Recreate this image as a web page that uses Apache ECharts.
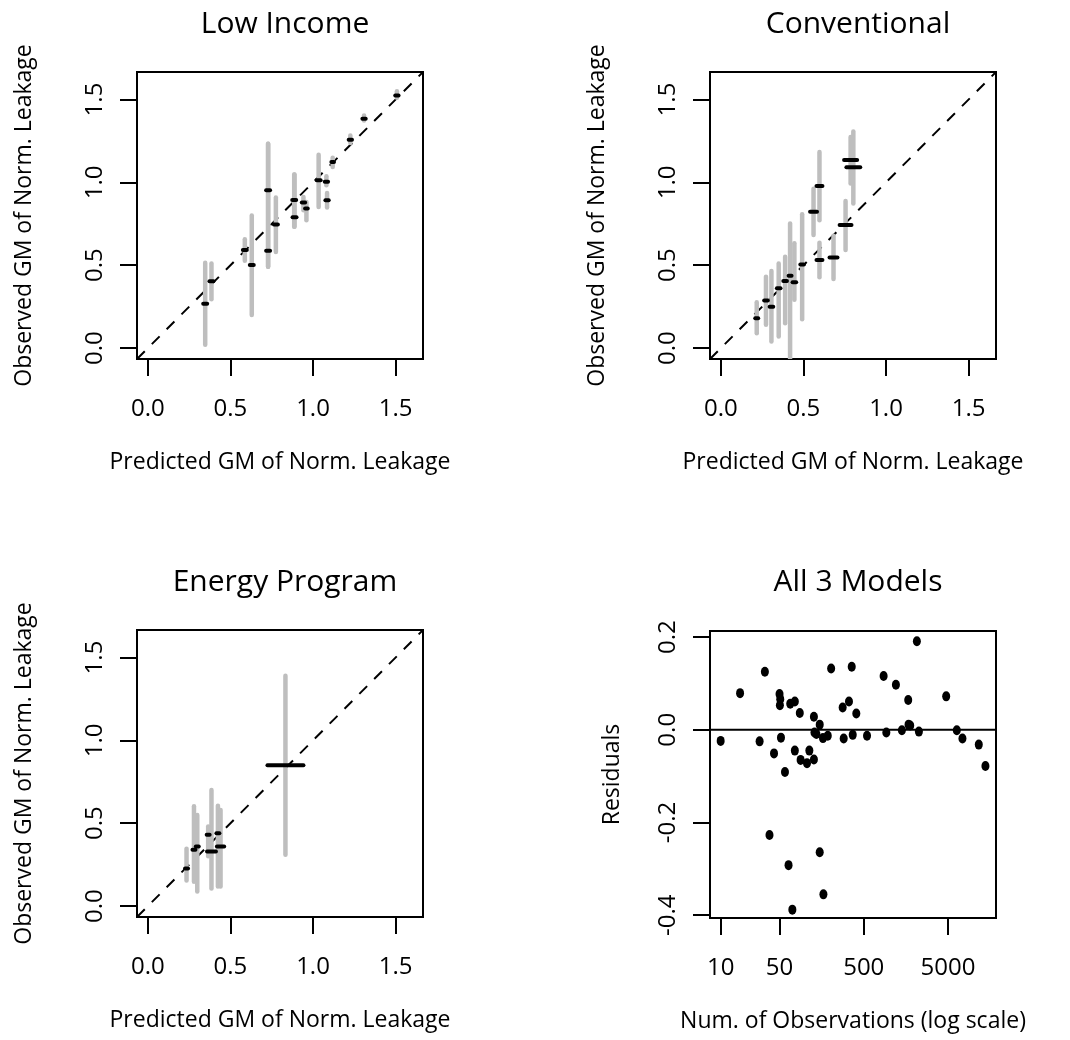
<!DOCTYPE html>
<html>
<head>
<meta charset="utf-8">
<script src="https://cdn.jsdelivr.net/npm/echarts@6/dist/echarts.min.js"></script>
<style>
  html, body { margin: 0; padding: 0; background: #fff; }
  #main { width: 1070px; height: 1040px; }
</style>
</head>
<body>
<div id="main"></div>
<script>
// panel titles and axis names
var titles = ['Low Income', 'Conventional', 'Energy Program', 'All 3 Models'];
var predName = 'Predicted GM of Norm. Leakage';
var obsName = 'Observed GM of Norm. Leakage';

// shared axis range / ticks for the three calibration panels
var gmRange = [-0.066, 1.666];
var gmTicks = [0, 0.5, 1, 1.5];

// Low Income: predicted range (black), observed GM and its interval (grey)
var lowPredLo = [0.335, 0.373, 0.575, 0.617, 0.716, 0.716, 0.763, 0.874, 0.876, 0.932, 0.952, 1.022, 1.071, 1.075, 1.111, 1.216, 1.299, 1.498];
var lowPredHi = [0.359, 0.397, 0.599, 0.641, 0.740, 0.740, 0.787, 0.898, 0.900, 0.952, 0.968, 1.046, 1.091, 1.095, 1.127, 1.236, 1.319, 1.518];
var lowObs    = [0.267, 0.403, 0.592, 0.501, 0.952, 0.588, 0.746, 0.894, 0.790, 0.878, 0.842, 1.013, 1.003, 0.892, 1.123, 1.257, 1.384, 1.524];
var lowObsLo  = [0.020, 0.295, 0.527, 0.200, 0.491, 0.491, 0.580, 0.732, 0.732, 0.832, 0.772, 0.852, 0.983, 0.848, 1.093, 1.237, 1.374, 1.510];
var lowObsHi  = [0.515, 0.511, 0.656, 0.800, 1.233, 1.233, 0.908, 1.047, 1.047, 0.912, 0.882, 1.167, 1.037, 0.936, 1.149, 1.283, 1.404, 1.550];

// Conventional
var convPredLo = [0.208, 0.262, 0.295, 0.339, 0.378, 0.410, 0.434, 0.481, 0.540, 0.579, 0.579, 0.658, 0.719, 0.746, 0.760];
var convPredHi = [0.226, 0.284, 0.317, 0.361, 0.400, 0.428, 0.456, 0.503, 0.582, 0.615, 0.615, 0.706, 0.791, 0.825, 0.844];
var convObs    = [0.180, 0.287, 0.249, 0.361, 0.405, 0.437, 0.397, 0.505, 0.822, 0.978, 0.531, 0.547, 0.742, 1.135, 1.091];
var convObsLo  = [0.090, 0.140, 0.040, 0.070, 0.150, -0.060, 0.291, 0.174, 0.682, 0.772, 0.427, 0.417, 0.592, 0.993, 0.872];
var convObsHi  = [0.277, 0.431, 0.465, 0.511, 0.551, 0.752, 0.632, 0.808, 0.962, 1.183, 0.636, 0.678, 0.888, 1.273, 1.307];

// Energy Program
var engPredLo = [0.225, 0.270, 0.290, 0.358, 0.356, 0.415, 0.418, 0.724];
var engPredHi = [0.243, 0.288, 0.308, 0.412, 0.374, 0.433, 0.462, 0.942];
var engObs    = [0.226, 0.340, 0.360, 0.330, 0.430, 0.440, 0.360, 0.850];
var engObsLo  = [0.154, 0.146, 0.088, 0.106, 0.300, 0.118, 0.118, 0.310];
var engObsHi  = [0.346, 0.602, 0.550, 0.700, 0.480, 0.606, 0.580, 1.390];

// All 3 models: number of observations and residuals
var nObs = [10, 17, 29, 33.5, 38, 43, 50, 51, 50.5, 52, 58, 64, 67, 76, 76, 87, 89, 106, 113, 128, 128, 130, 137, 150, 150,
            164, 187, 205, 281, 289, 334, 360, 370, 408, 547, 861, 927, 1205, 1419, 1687, 1702, 1782, 2138, 2259, 4764,
            6368, 7430, 11614, 13932, 71, 166];
var resid = [-0.024, 0.079, -0.025, 0.125, -0.227, -0.051, 0.077, 0.066, 0.053, -0.017, -0.091, -0.292, 0.056, 0.061, -0.045,
             0.036, -0.065, -0.072, -0.045, 0.028, -0.064, -0.006, -0.009, 0.011, -0.264, -0.018, -0.013, 0.132, 0.048, -0.019,
             0.061, 0.136, -0.011, 0.035, -0.013, 0.116, -0.006, 0.097, -0.001, 0.064, 0.011, 0.009, 0.191, -0.004, 0.072,
             -0.001, -0.019, -0.032, -0.078, -0.388, -0.355];
var residRange = [-0.406, 0.213];
var residTicks = [-0.4, -0.2, 0, 0.2];
var nObsRange = [7.47, 18600];
var nObsTicks = [10, 50, 500, 5000];

var FONT = '"Open Sans", "DejaVu Sans", sans-serif';

var grids = [
  { left: 137, top: 72, width: 286, height: 287 },
  { left: 710, top: 72, width: 286, height: 287 },
  { left: 137, top: 630, width: 286, height: 287 },
  { left: 710, top: 631, width: 286, height: 287 }
];
grids.forEach(function (g) {
  g.show = true;
  g.borderColor = '#000';
  g.borderWidth = 2;
  g.backgroundColor = 'transparent';
});

function gmAxis(i, isX) {
  var ax = {
    type: 'value',
    gridIndex: i,
    min: gmRange[0],
    max: gmRange[1],
    splitLine: { show: false },
    axisLine: { show: false, onZero: false },
    axisTick: { show: true, length: 17, customValues: gmTicks, lineStyle: { color: '#000', width: 2 } },
    axisLabel: {
      customValues: gmTicks,
      color: '#000', fontFamily: FONT, fontSize: 24,
      formatter: function (v) { return v.toFixed(1); }
    },
    name: isX ? predName : obsName,
    nameLocation: 'middle',
    nameTextStyle: { color: '#000', fontFamily: FONT, fontSize: 23 }
  };
  if (isX) {
    ax.axisLabel.margin = 38;
    ax.nameGap = 92;
  } else {
    ax.axisLabel.rotate = 90;
    ax.axisLabel.margin = 30;
    ax.nameRotate = 90;
    ax.nameGap = 101;
  }
  return ax;
}

var xAxes = [gmAxis(0, true), gmAxis(1, true), gmAxis(2, true)];
var yAxes = [gmAxis(0, false), gmAxis(1, false), gmAxis(2, false)];

var logTicks = nObsTicks.map(function (v) { return Math.log10(v); });
xAxes.push({
  type: 'value',
  gridIndex: 3,
  min: Math.log10(nObsRange[0]),
  max: Math.log10(nObsRange[1]),
  splitLine: { show: false },
  axisLine: { show: false, onZero: false },
  axisTick: { show: true, length: 17, customValues: logTicks, lineStyle: { color: '#000', width: 2 } },
  axisLabel: {
    customValues: logTicks, margin: 38,
    color: '#000', fontFamily: FONT, fontSize: 24,
    formatter: function (v) { return String(Math.round(Math.pow(10, v))); }
  },
  name: 'Num. of Observations (log scale)',
  nameLocation: 'middle',
  nameGap: 92,
  nameTextStyle: { color: '#000', fontFamily: FONT, fontSize: 23 }
});
yAxes.push({
  type: 'value',
  gridIndex: 3,
  min: residRange[0],
  max: residRange[1],
  splitLine: { show: false },
  axisLine: { show: false, onZero: false },
  axisTick: { show: true, length: 17, customValues: residTicks, lineStyle: { color: '#000', width: 2 } },
  axisLabel: {
    customValues: residTicks, rotate: 90, margin: 30,
    color: '#000', fontFamily: FONT, fontSize: 24,
    formatter: function (v) { return v.toFixed(1); }
  },
  name: 'Residuals',
  nameLocation: 'middle',
  nameRotate: 90,
  nameGap: 86,
  nameTextStyle: { color: '#000', fontFamily: FONT, fontSize: 23 }
});

// segment drawn through the axes: value = [x1, y1, x2, y2]
function segRender(color, width) {
  return function (params, api) {
    var p1 = api.coord([api.value(0), api.value(1)]);
    var p2 = api.coord([api.value(2), api.value(3)]);
    return {
      type: 'line',
      shape: { x1: p1[0], y1: p1[1], x2: p2[0], y2: p2[1] },
      style: { stroke: color, lineWidth: width, lineCap: 'round' }
    };
  };
}

var series = [];
var panels = [
  [lowPredLo, lowPredHi, lowObs, lowObsLo, lowObsHi],
  [convPredLo, convPredHi, convObs, convObsLo, convObsHi],
  [engPredLo, engPredHi, engObs, engObsLo, engObsHi]
];
panels.forEach(function (p, i) {
  var lo = p[0], hi = p[1], obs = p[2], oLo = p[3], oHi = p[4];
  // y = x reference line
  series.push({
    type: 'line', xAxisIndex: i, yAxisIndex: i,
    data: [[gmRange[0], gmRange[0]], [gmRange[1], gmRange[1]]],
    symbol: 'none', silent: true,
    lineStyle: { color: '#000', width: 2, type: [11, 10] },
    z: 1
  });
  series.push({
    type: 'custom', xAxisIndex: i, yAxisIndex: i, clip: true,
    renderItem: segRender('#bebebe', 4.5),
    data: obs.map(function (o, k) {
      var xm = (lo[k] + hi[k]) / 2;
      return [xm, oLo[k], xm, oHi[k]];
    }),
    z: 2
  });
  series.push({
    type: 'custom', xAxisIndex: i, yAxisIndex: i, clip: true,
    renderItem: segRender('#000', 4),
    data: obs.map(function (o, k) { return [lo[k], o, hi[k], o]; }),
    z: 3
  });
});

// residual panel
series.push({
  type: 'line', xAxisIndex: 3, yAxisIndex: 3,
  data: [[Math.log10(nObsRange[0]), 0], [Math.log10(nObsRange[1]), 0]],
  symbol: 'none', silent: true,
  lineStyle: { color: '#000', width: 2 },
  z: 1
});
series.push({
  type: 'scatter', xAxisIndex: 3, yAxisIndex: 3,
  data: nObs.map(function (n, k) { return [Math.log10(n), resid[k]]; }),
  symbol: 'circle', symbolSize: [8, 10],
  itemStyle: { color: '#000', opacity: 1 },
  z: 3
});

var titleCenters = [[280, 4], [853, 4], [280, 562], [853, 562]];
var chart = echarts.init(document.getElementById('main'), null, { renderer: 'canvas' });
chart.setOption({
  animation: false,
  backgroundColor: '#fff',
  title: titles.map(function (t, i) {
    return {
      text: t, left: titleCenters[i][0], top: titleCenters[i][1], textAlign: 'center',
      textStyle: { color: '#000', fontFamily: FONT, fontSize: 30, fontWeight: 'normal' }
    };
  }),
  grid: grids,
  xAxis: xAxes,
  yAxis: yAxes,
  series: series
});
</script>
</body>
</html>
